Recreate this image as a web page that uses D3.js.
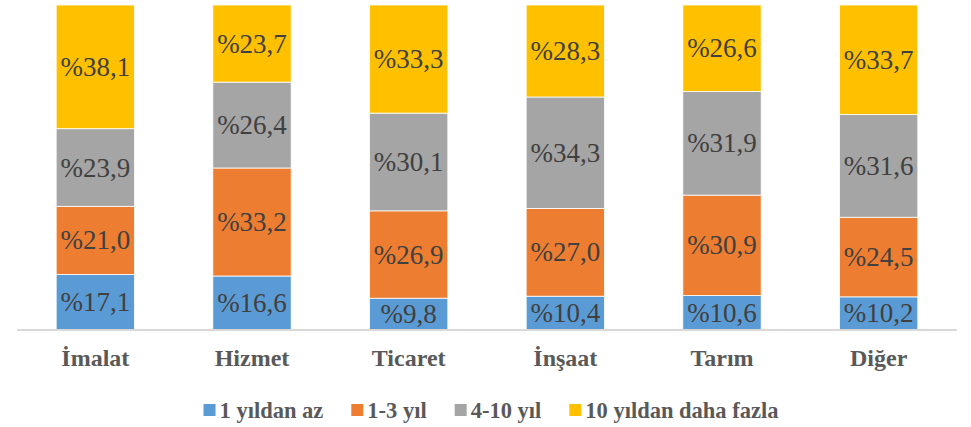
<!DOCTYPE html>
<html>
<head>
<meta charset="utf-8">
<script src="https://cdn.jsdelivr.net/npm/d3@7"></script>
</head>
<body style="margin:0">
<script>
var categories = ["İmalat", "Hizmet", "Ticaret", "İnşaat", "Tarım", "Diğer"];
var seriesNames = ["1 yıldan az", "1-3 yıl", "4-10 yıl", "10 yıldan daha fazla"];
var lessThan1 = [17.1, 16.6, 9.8, 10.4, 10.6, 10.2];
var years1to3 = [21.0, 33.2, 26.9, 27.0, 30.9, 24.5];
var years4to10 = [23.9, 26.4, 30.1, 34.3, 31.9, 31.6];
var moreThan10 = [38.1, 23.7, 33.3, 28.3, 26.6, 33.7];
var colors = ["#5b9bd5", "#ed7d31", "#a5a5a5", "#ffc000"];

var seriesValues = [lessThan1, years1to3, years4to10, moreThan10];
var FONT = "'Liberation Serif'";

var rows = categories.map(function(c, i) {
  var r = {cat: c};
  seriesNames.forEach(function(s, j) { r[s] = seriesValues[j][i]; });
  return r;
});

var width = 971, height = 427;
var margin = {top: 5, left: 17, right: 14, bottom: 97};

var svg = d3.select("body").append("svg")
  .attr("width", width).attr("height", height)
  .style("display", "block")
  .attr("font-family", "Liberation Serif")
  .style("font-family", FONT);

var x_scale = d3.scaleBand()
  .domain(categories)
  .range([margin.left, width - margin.right])
  .paddingInner(0.5).paddingOuter(0.25);

var y_scale = d3.scaleLinear()
  .domain([0, 1])
  .range([height - margin.bottom, margin.top]);

var stacked = d3.stack().keys(seriesNames).offset(d3.stackOffsetExpand)(rows);

var groups = svg.selectAll("g.series").data(stacked).enter()
  .append("g").attr("class", "series")
  .attr("fill", function(d, i) { return colors[i]; });

groups.selectAll("rect").data(function(d) { return d; }).enter()
  .append("rect")
  .attr("x", function(d) { return x_scale(d.data.cat); })
  .attr("y", function(d) { return y_scale(d[1]); })
  .attr("width", x_scale.bandwidth())
  .attr("height", function(d) { return y_scale(d[0]) - y_scale(d[1]); })
  .attr("stroke", "#fff").attr("stroke-width", 0.8);

// value labels, placed straight on the svg
stacked.forEach(function(s) {
  svg.selectAll("text.v" + s.index).data(s).enter()
    .append("text").attr("class", "v" + s.index)
    .attr("x", function(d) { return x_scale(d.data.cat) + x_scale.bandwidth() / 2; })
    .attr("y", function(d) { return (y_scale(d[0]) + y_scale(d[1])) / 2 + 9; })
    .attr("text-anchor", "middle")
    .attr("font-family", "Liberation Serif")
    .style("font-family", FONT)
    .style("font-size", "27px")
    .attr("fill", "#404040")
    .text(function(d) { return "%" + d.data[s.key].toFixed(1).replace(".", ","); });
});

// x axis
var xAxis = d3.axisBottom(x_scale).tickSize(0).tickPadding(19);
var xGroup = svg.append("g")
  .attr("transform", "translate(0," + y_scale(0) + ")")
  .call(xAxis);
xGroup.attr("font-family", "Liberation Serif").attr("font-size", null);
xGroup.select(".domain").attr("stroke", "#d9d9d9").attr("stroke-width", 2)
  .attr("d", "M" + margin.left + ",0H" + (width - margin.right));
xGroup.selectAll("text")
  .attr("font-family", "Liberation Serif")
  .style("font-family", FONT)
  .style("font-size", "24px").style("font-weight", "bold").attr("fill", "#595959");

// legend
var legend = svg.append("g");
var lx = 0;
var items = legend.selectAll("g").data(seriesNames).enter().append("g");
items.append("rect").attr("width", 12).attr("height", 12).attr("y", -14)
  .attr("fill", function(d, i) { return colors[i]; });
items.append("text").attr("x", 16)
  .attr("font-family", "Liberation Serif")
  .style("font-family", FONT)
  .style("font-size", "22.5px").style("font-weight", "bold").attr("fill", "#595959")
  .text(function(d) { return d; });
items.each(function() {
  var g = d3.select(this);
  g.attr("transform", "translate(" + lx + ",0)");
  lx += 16 + g.select("text").node().getComputedTextLength() + 28;
});
lx -= 28;
legend.attr("transform", "translate(" + (491 - lx / 2) + ",418)");
</script>
</body>
</html>
